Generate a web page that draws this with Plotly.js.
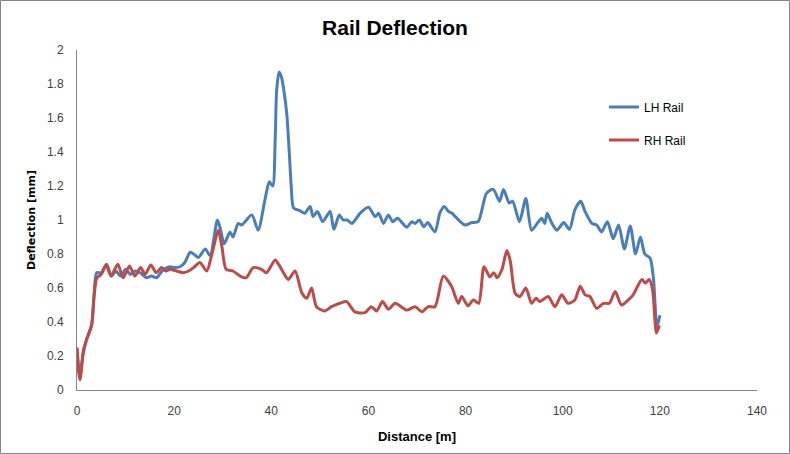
<!DOCTYPE html>
<html>
<head>
<meta charset="utf-8">
<script src="https://cdn.plot.ly/plotly-3.0.1.min.js"></script>
<style>html,body{margin:0;padding:0;background:#fff;}#chart{width:790px;height:454px;}</style>
</head>
<body>
<div id="chart"></div>
<script>
const chartTitle = "Rail Deflection";
const xTitle = "Distance [m]";
const yTitle = "Deflection [mm]";
const seriesNames = ["LH Rail", "RH Rail"];

const lhDistance = [0,0.6,1.3,2,3,3.5,4.05,5,6.1,7.1,8,9,10,11,12,13,14.3,15.3,16.4,17.5,19.1,20,21.2,22.2,23.3,24,25,26.4,27.4,28.9,29.5,30.3,31.5,32.1,33.2,33.9,34.6,36,37.3,38.7,39.6,40.3,40.8,41.1,41.6,42.1,42.6,43.2,43.7,44.1,44.6,45.9,46.9,48,48.6,49.5,50.6,52.1,52.9,54,54.8,55.6,56.6,58.3,60,61.4,62.1,63.1,64.1,65,66,67.9,68.9,69.6,70.5,71.4,72.2,73.7,74.7,75.6,76.5,77.2,78.9,79.9,81.3,82.6,84.3,85.7,87,87.8,89,89.7,91.1,92.4,93.6,95,95.7,96.3,96.8,97.7,98.8,100.2,101.4,102.5,103.7,104.6,106,107,108,109.2,110.4,111.5,112.7,113.9,115,116,116.9,118,118.7,119.4,120];
const lhDeflection = [0.24,0.07,0.23,0.3,0.38,0.55,0.69,0.69,0.74,0.67,0.7,0.67,0.71,0.68,0.7,0.69,0.66,0.67,0.66,0.7,0.725,0.72,0.725,0.75,0.81,0.8,0.78,0.83,0.79,1.0,0.95,0.86,0.93,0.9,0.98,0.97,0.99,1.03,0.94,1.12,1.225,1.2,1.47,1.76,1.87,1.84,1.76,1.62,1.4,1.2,1.07,1.055,1.04,1.08,1.02,1.05,0.99,1.05,0.945,1.03,1.0,1.0,0.98,1.04,1.075,1.02,1.04,0.98,1.03,0.99,1.01,0.957,0.99,0.98,1.0,0.96,0.985,0.93,1.04,1.08,1.05,1.04,0.99,0.97,0.985,0.99,1.157,1.18,1.11,1.18,1.1,1.11,0.99,1.127,0.94,0.99,1.01,0.98,1.04,0.985,0.94,0.985,0.945,1.06,1.11,1.05,0.98,0.97,0.93,0.99,0.89,0.97,0.83,0.965,0.80,0.9,0.80,0.775,0.65,0.37,0.44];

const rhDistance = [0,0.6,1.3,2,3,3.5,4.1,5,6,7,8.4,9.5,10.8,11.9,13.1,14,15.2,16.3,17.4,18.3,19.1,20.5,21.9,23,24,25.3,26.7,27.7,29.1,29.8,30.7,32.1,33.6,34.8,36.3,38,39,40.8,41.7,42.5,43.5,44.9,46.3,47.3,48.3,49.3,51,52.4,54.1,55.5,57.2,59.3,60.6,61.7,62.9,64.1,65.5,67.9,69.6,71,72.3,73.7,75.4,77.1,78.5,79.2,80.5,81.6,82.7,83.8,85,85.8,86.5,87.5,88.5,89.2,90.2,91.2,92.4,93.6,94.5,95.3,97,98.4,99.8,101.1,102.5,103.6,104.6,105.6,107,108.4,109.6,110.8,112.1,113.5,114.5,116.3,117,117.8,118.5,119.3,119.9];
const rhDeflection = [0.25,0.06,0.22,0.3,0.38,0.55,0.66,0.68,0.735,0.67,0.74,0.66,0.73,0.67,0.72,0.68,0.735,0.69,0.72,0.7,0.71,0.7,0.69,0.7,0.72,0.75,0.70,0.79,0.94,0.85,0.71,0.70,0.67,0.66,0.72,0.71,0.69,0.765,0.73,0.69,0.65,0.70,0.57,0.54,0.60,0.49,0.465,0.49,0.51,0.52,0.46,0.455,0.49,0.465,0.52,0.475,0.51,0.47,0.49,0.46,0.49,0.49,0.67,0.61,0.51,0.55,0.495,0.53,0.51,0.725,0.665,0.69,0.66,0.71,0.82,0.76,0.57,0.55,0.60,0.51,0.54,0.52,0.55,0.49,0.56,0.51,0.53,0.61,0.56,0.55,0.48,0.51,0.51,0.58,0.50,0.53,0.56,0.65,0.63,0.65,0.59,0.335,0.38];

const xTicks = [0,20,40,60,80,100,120,140];
const yTicks = [0,0.2,0.4,0.6,0.8,1,1.2,1.4,1.6,1.8,2];

const narrow = "'Liberation Sans Narrow', 'Liberation Sans', Arial, sans-serif";

const traces = [
  {x: lhDistance, y: lhDeflection, name: seriesNames[0], type: 'scatter', mode: 'lines',
   legendgroup: 'a', line: {color: '#4A7EBB', width: 3, shape: 'spline', smoothing: 0.7}},
  {x: rhDistance, y: rhDeflection, name: seriesNames[1], type: 'scatter', mode: 'lines',
   legendgroup: 'b', line: {color: '#BE4B48', width: 3, shape: 'spline', smoothing: 0.7}}
];

const layout = {
  width: 790, height: 454,
  margin: {l: 77, r: 33, t: 50, b: 64},
  paper_bgcolor: '#ffffff', plot_bgcolor: '#ffffff',
  font: {family: narrow, size: 11, color: '#404040'},
  title: {text: '<b>' + chartTitle + '</b>', x: 0.5, xanchor: 'center', y: 0.94, yanchor: 'middle',
          font: {family: narrow, size: 21, color: '#000000'}},
  xaxis: {range: [0, 140], tickvals: xTicks, ticktext: xTicks.map(String),
          showgrid: false, zeroline: false, showline: true, linecolor: '#868686', linewidth: 1,
          ticks: '', ticklabelstandoff: 10,
          tickfont: {family: narrow, size: 12, color: '#404040'},
          title: {text: '<b>' + xTitle + '</b>', font: {family: narrow, size: 13, color: '#000000'}, standoff: 14}},
  yaxis: {range: [0, 2], tickvals: yTicks, ticktext: yTicks.map(String),
          showgrid: false, zeroline: false, showline: true, linecolor: '#868686', linewidth: 1,
          ticks: '', ticklabelstandoff: 10,
          tickfont: {family: narrow, size: 12, color: '#404040'},
          title: {text: '<b>' + yTitle + '</b>', font: {family: "'DejaVu Sans', sans-serif", size: 11, color: '#000000'}, standoff: 9}},
  showlegend: true,
  legend: {x: 0.775, xanchor: 'left', y: 0.875, yanchor: 'top', traceorder: 'grouped', tracegroupgap: 14,
           font: {family: narrow, size: 12, color: '#000000'}, bgcolor: 'rgba(0,0,0,0)'},
  shapes: [{type: 'rect', xref: 'paper', yref: 'paper',
            x0: (0.5 - 77) / 680, x1: (789.5 - 77) / 680,
            y0: (390 - 453.5) / 340, y1: (390 - 0.5) / 340,
            line: {color: '#868686', width: 1}, fillcolor: 'rgba(0,0,0,0)'}]
};

Plotly.newPlot('chart', traces, layout, {displayModeBar: false, staticPlot: true});
</script>
</body>
</html>
